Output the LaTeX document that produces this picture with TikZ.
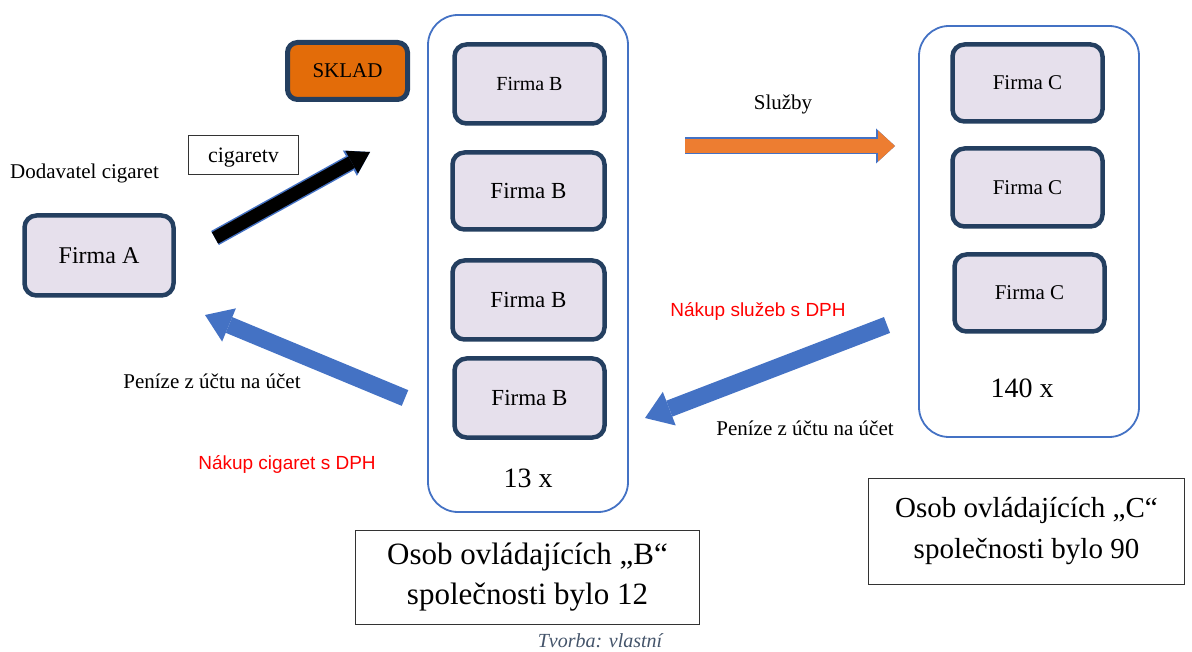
\documentclass[tikz,border=0pt]{standalone}
\usepackage{fontspec}
\setmainfont{Liberation Serif}
\newfontfamily\arialfont{Liberation Sans}
\usetikzlibrary{arrows.meta,positioning}
\definecolor{firmfill}{HTML}{E6E0EC}
\definecolor{firmline}{HTML}{243F60}
\definecolor{groupline}{HTML}{4472C4}
\definecolor{skladfill}{HTML}{E36C09}
\definecolor{arrowblue}{HTML}{4472C4}
\definecolor{arroworange}{HTML}{ED7D31}
\definecolor{notegray}{HTML}{44546A}

\begin{document}
\begin{tikzpicture}[x=1pt,y=-1pt,
  firm node/.style={rectangle,rounded corners=12pt,draw=firmline,fill=firmfill,line width=4.5pt,inner sep=0pt,minimum width=150pt},
  group node/.style={rectangle,rounded corners=30pt,draw=groupline,line width=1.8pt,inner sep=0pt},
  note node/.style={rectangle,draw=black!80,line width=1.2pt,align=center,inner sep=0pt},
  label node/.style={inner sep=0pt,font=\fontsize{21}{25}\selectfont},
  red label/.style={inner sep=0pt,text=red,font=\arialfont\fontsize{19}{23}\selectfont},
  money arrow/.style={draw=arrowblue,line width=17pt,-{Triangle[width=36pt,length=26pt,line width=0pt]}}]
  \useasboundingbox (0,0) rectangle (1192,652);

  % groups of firms
  \node[group node,minimum width=200pt,minimum height=497pt] (groupB) at (528,263.5) {};
  \node[group node,minimum width=220pt,minimum height=411pt] (groupC) at (1029,231.5) {};

  \node[firm node,minimum height=79pt,font=\fontsize{20}{24}\selectfont] (B1) at (529.5,84) {Firma B};
  \node[firm node,minimum width=152pt,minimum height=77pt,font=\fontsize{23}{27}\selectfont] (B2) at (528.5,191) {Firma B};
  \node[firm node,minimum width=152pt,minimum height=79pt,font=\fontsize{23}{27}\selectfont] (B3) at (528.5,300) {Firma B};
  \node[firm node,minimum height=79pt,font=\fontsize{23}{27}\selectfont] (B4) at (529.5,398) {Firma B};
  \node[label node,font=\fontsize{28}{32}\selectfont] (countB) at (528,478) {13 x};

  \node[firm node,minimum height=77pt,font=\fontsize{21}{25}\selectfont] (C1) at (1027.5,83) {Firma C};
  \node[firm node,minimum height=78pt,font=\fontsize{21}{25}\selectfont] (C2) at (1027.5,187.5) {Firma C};
  \node[firm node,minimum height=77pt,font=\fontsize{21}{25}\selectfont] (C3) at (1029.5,293) {Firma C};
  \node[label node,font=\fontsize{28}{32}\selectfont] (countC) at (1022,388) {140 x};

  \node[firm node,minimum width=149pt,minimum height=80pt,font=\fontsize{24}{28}\selectfont] (A) at (99,255.5) {Firma A};
  \node[label node,anchor=west] (supplier) at (10,173) {Dodavatel cigaret};

  \node[rectangle,rounded corners=10pt,draw=firmline,fill=skladfill,line width=5pt,inner sep=0pt,minimum width=120pt,minimum height=57pt,font=\fontsize{21}{25}\selectfont] (sklad) at (347.5,71) {SKLAD};

  % goods and services
  \node[note node,line width=1.5pt,minimum width=110pt,minimum height=39pt,text depth=0pt,font=\fontsize{22}{26}\selectfont] (goods) at (243.5,155) {cigaretv};
  \coordinate (goodsS) at (215,238);
  \coordinate (goodsE) at (370,152);
  \draw[arrowblue,line width=16pt,-{Triangle[width=29pt,length=23pt,line width=0pt]}] (goodsS) -- (goodsE);
  \draw[black,line width=13pt,-{Triangle[width=26pt,length=21pt,line width=0pt]}] (goodsS) -- (goodsE);

  \node[label node] (services) at (783,104) {Služby};
  \coordinate (servS) at (685,146);
  \coordinate (servE) at (895,146);
  \draw[arrowblue,line width=17pt,-{Triangle[width=35pt,length=19pt,line width=0pt]}] (servS) -- (servE);
  \draw[arroworange,line width=14pt,-{Triangle[width=31pt,length=17pt,line width=0pt]}] (servS) -- (servE);

  % money flows
  \coordinate (payBS) at (405,398);
  \coordinate (payBE) at (205,315);
  \draw[money arrow] (payBS) -- (payBE);
  \node[label node] (moneyB) at (212,381) {Peníze z účtu na účet};
  \node[red label] (buyB) at (287,464) {Nákup cigaret s DPH};

  \coordinate (payCS) at (887,325);
  \coordinate (payCE) at (645,418);
  \draw[money arrow] (payCS) -- (payCE);
  \node[red label] (buyC) at (758,311) {Nákup služeb s DPH};
  \node[label node] (moneyC) at (805,428) {Peníze z účtu na účet};

  % owners
  \node[note node,minimum width=344pt,minimum height=94pt,font=\fontsize{31}{40}\selectfont] (ownersB) at (527.5,577.5) {Osob ovládajících „B“\\společnosti bylo 12};
  \node[note node,minimum width=316pt,minimum height=106pt,font=\fontsize{29}{41}\selectfont] (ownersC) at (1026.5,531.5) {Osob ovládajících „C“\\společnosti bylo 90};

  \node[label node,anchor=base,text=notegray,font=\itshape\fontsize{20}{24}\selectfont] (source) at (600,647) {Tvorba: vlastní};
\end{tikzpicture}
\end{document}
